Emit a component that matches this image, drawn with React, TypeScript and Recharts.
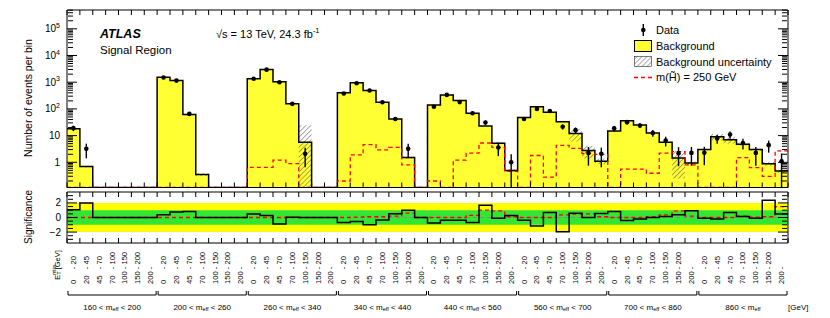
import React from 'react';
import {
  ComposedChart,
  Area,
  Line,
  Scatter,
  ErrorBar,
  XAxis,
  YAxis,
  ReferenceArea,
  ReferenceLine,
} from 'recharts';

// E_T^miss bins inside each m_eff group [GeV]
const metLow = ['0', '20', '45', '70', '100', '150', '200'];
const metHigh = ['20', '45', '70', '100', '150', '200', ''];

// m_eff groups [GeV]
const meffLow = ['160', '200', '260', '340', '440', '560', '700', '860'];
const meffHigh = ['200', '260', '340', '440', '560', '700', '860', ''];

// expected background per bin (8 groups x 7 bins)
const background = [
  18, 0.7, 0, 0, 0, 0, 0,
  1550, 1150, 62, 0.35, 0, 0, 0,
  1350, 3000, 1050, 155, 5.6, 0, 0,
  400, 950, 490, 178, 42, 1.5, 0,
  141, 335, 205, 69, 23, 5.2, 0.49,
  48, 120, 75, 33, 12, 2.8, 1.1,
  15, 36, 25, 12.6, 5.6, 1.45, 0.94,
  3.0, 9, 7, 4.8, 3.0, 0.89, 0.47,
];

// background uncertainty (hatched)
const backgroundErr = [
  0, 0.05, 0, 0, 0, 0, 0,
  0, 0, 0, 0.04, 0, 0, 0,
  0, 0, 0, 0, 19, 0, 0,
  0, 0, 0, 0, 0, 0.15, 0,
  0, 0, 0, 0, 0, 0.5, 0.06,
  0, 0, 0, 0, 6, 1.4, 0.25,
  0, 0, 0, 0, 0, 1.2, 0.1,
  0, 2.5, 2, 0.6, 0.3, 0.15, 0.06,
];

// observed data (null = no point drawn)
const observed: (number | null)[] = [
  19, 3.2, null, null, null, null, null,
  1500, 1150, 65, null, null, null, null,
  1350, 2950, 1000, 155, 2.1, null, null,
  380, 920, 490, 178, 42, 3.2, null,
  120, 335, 180, 69, 31, 3.6, 1.0,
  42, 100, 84, 21.5, 16, 2.25, 2.1,
  18.7, 32, 24, 12.6, 6.5, 2.2, 2.25,
  2.3, 7.8, 11, 5.3, 2.25, 4.4, 1.1,
];

// m(H~) = 250 GeV signal
const signal = [
  0, 0, 0, 0, 0, 0, 0,
  0, 0, 0, 0, 0, 0, 0,
  0.65, 0.65, 1.2, 0.9, 0, 0, 0,
  0.2, 1.9, 4.6, 2.9, 3.6, 0.8, 0,
  0.2, 0, 1.2, 2.2, 5.3, 3.6, 0.46,
  0, 1.8, 0.28, 4.3, 3.3, 2.1, 2.0,
  0, 0.56, 0.56, 0.39, 2.2, 2.5, 0.8,
  0, 0, 0, 1.5, 0.63, 0.3, 2.67,
];

// significance of data vs background
const significance = [
  1.07, 2.0, 0, 0, 0, 0, 0,
  0.37, 0.74, 0.84, 0, 0, 0, 0,
  0.47, 0.28, -0.88, 0.05, 0, 0, 0,
  -0.7, -0.56, -1.0, -0.33, 0.51, 0.98, 0,
  -0.74, -0.37, -0.37, -0.7, 1.67, -0.1, 0.28,
  -0.37, -1.16, 0.7, -1.95, 0.6, 0, 0.56,
  0.84, -0.42, -0.19, 0, 0.14, 0.37, 0.93,
  -0.1, -0.19, 0.7, 0.14, -0.1, 2.37, 0.47,
];

// significance of signal + background
const signalSignificance = [
  0, 0, 0, 0, 0, 0, 0,
  0, 0, 0, 0, 0, 0, 0,
  0, 0, 0, 0, 0, 0, 0,
  0, 0.05, 0.1, 0.1, 0.2, 0.6, 0,
  0, 0, 0, 0.3, 1.0, 0.9, 0.1,
  0, 0, 0, 0.35, 0.45, 0.5, 0.1,
  0, 0, 0, 0.1, 0.35, 0.9, 0.2,
  0, 0, 0, 0.2, 0.05, 0.1, 1.5,
];

const NB = background.length;
const PER_GROUP = metLow.length;
const Y_MIN = 0.114;
const Y_MAX = 5.06e5;
const FONT = '"Liberation Sans", Arial, Helvetica, sans-serif';
const LEFT = 67;
const RIGHT_MARGIN = 42;
const BIN_PX = (830 - LEFT - RIGHT_MARGIN) / NB;

const edges = Array.from({ length: NB + 1 }, (_, i) => i);
const centers = Array.from({ length: NB }, (_, i) => i + 0.5);
const decades = [1, 10, 100, 1000, 10000, 100000];
const minors: number[] = [];
for (let e = -1; e <= 5; e++) {
  for (let k = 2; k <= 9; k++) {
    const v = k * Math.pow(10, e);
    if (v > Y_MIN && v < Y_MAX) minors.push(v);
  }
}
const sigMajor = [-2, 0, 2];
const sigMinor = [-3, -2.5, -1.5, -1, -0.5, 0.5, 1, 1.5, 2.5, 3];

const rows = edges.map((i) => {
  const b = Math.min(i, NB - 1);
  const bg = background[b];
  const e = backgroundErr[b];
  return {
    x: i,
    bg: bg > 0 ? bg : Y_MIN,
    band: bg > 0 ? [Math.max(bg - e, Y_MIN), bg + e] : [Y_MIN, Y_MIN],
    sig: signal[b] > 0 ? signal[b] : Y_MIN,
    z: significance[b],
    zs: signalSignificance[b],
  };
});

const points = observed.flatMap((v, i) =>
  v == null
    ? []
    : [{ x: i + 0.5, y: v, err: [v - Math.max(v - Math.sqrt(v), Y_MIN), Math.sqrt(v)] }]
);

const LogTick = ({ x, y, payload }: any) => {
  const v = payload.value;
  const e = Math.round(Math.log10(v));
  return (
    <text x={x} y={y} textAnchor="end" dominantBaseline="central" fontSize={10} fill="#000">
      {e <= 1 ? String(v) : (
        <>
          10<tspan dy={-4} fontSize={7}>{e}</tspan>
        </>
      )}
    </text>
  );
};

const MetTick = ({ x, y, payload }: any) => {
  const bin = Math.floor(payload.value);
  const k = bin % PER_GROUP;
  const g = Math.floor(bin / PER_GROUP);
  const label = `${metLow[k].padEnd(3, '\u2007')} - ${metHigh[k]}`;
  return (
    <g>
      <text
        transform={`translate(${x},${y + 41}) rotate(-90)`}
        dominantBaseline="central"
        fontSize={7.6}
        fill="#000"
      >
        {label}
      </text>
      {k === 3 && (
        <g>
          <path
            d={`M${x - 3.5 * BIN_PX + 1},${y + 48} V${y + 52} H${x + 3.5 * BIN_PX - 1} V${y + 48}`}
            stroke="#000"
            fill="none"
            strokeWidth={1}
          />
          <text x={x} y={y + 64} textAnchor="middle" dominantBaseline="central" fontSize={8} fill="#000">
            {meffLow[g]} &lt; m<tspan dy={2} fontSize={5.5}>eff</tspan>
            <tspan dy={-2}>{meffHigh[g] ? ` < ${meffHigh[g]}` : ''}</tspan>
          </text>
        </g>
      )}
    </g>
  );
};

const Dot = (p: any) => <circle cx={p.cx} cy={p.cy} r={2.3} fill="#000" />;
const NoLabel = () => <g />;

// frame with inward ticks on all four sides
const frameAxes = (yDomain: number[], yScale: 'log' | 'linear', major: number[], minor: number[]) => {
  const common = { tick: NoLabel, interval: 0 as const, allowDataOverflow: true, stroke: '#000', tickLine: { stroke: '#000' } };
  return [
    <XAxis key="t" xAxisId="t" orientation="top" mirror type="number" domain={[0, NB]}
      ticks={edges} tickSize={5} height={1} {...common} />,
    <XAxis key="b" xAxisId="b" orientation="bottom" mirror type="number" domain={[0, NB]}
      ticks={edges} tickSize={5} height={1} {...common} />,
    <YAxis key="lM" yAxisId="lM" mirror type="number" scale={yScale} domain={yDomain}
      ticks={major} tickSize={10} width={1} {...common} />,
    <YAxis key="lm" yAxisId="lm" mirror type="number" scale={yScale} domain={yDomain}
      ticks={minor} tickSize={5} width={1} axisLine={false} {...common} />,
    <YAxis key="rM" yAxisId="rM" orientation="right" mirror type="number" scale={yScale} domain={yDomain}
      ticks={major} tickSize={10} width={1} {...common} />,
    <YAxis key="rm" yAxisId="rm" orientation="right" mirror type="number" scale={yScale} domain={yDomain}
      ticks={minor} tickSize={5} width={1} axisLine={false} {...common} />,
  ];
};

const App: React.FC = () => {
  return (
    <div style={{ position: 'absolute', left: 0, top: 0, width: 830, height: 318, fontFamily: FONT, background: '#fff' }}>
      {/* upper panel: event counts */}
      <ComposedChart
        width={830}
        height={190}
        data={rows}
        margin={{ top: 10, right: RIGHT_MARGIN, bottom: 2.5, left: 0 }}
        style={{ position: 'absolute', left: 0, top: 0 }}
      >
        <defs>
          <pattern id="hatch" width="3.5" height="3.5" patternUnits="userSpaceOnUse" patternTransform="rotate(45)">
            <line x1="0" y1="0" x2="0" y2="3.5" stroke="#555" strokeWidth="1" />
          </pattern>
        </defs>
        <XAxis xAxisId="m" dataKey="x" type="number" domain={[0, NB]} allowDataOverflow hide />
        {frameAxes([Y_MIN, Y_MAX], 'log', decades, minors)}
        <YAxis yAxisId="m" type="number" scale="log" domain={[Y_MIN, Y_MAX]} allowDataOverflow ticks={decades}
          interval={0} width={LEFT} axisLine={false} tickLine={false} tickSize={4} tickMargin={3} tick={<LogTick />} />
        <Area xAxisId="m" yAxisId="m" dataKey="bg" type="stepAfter" fill="#ffff33" fillOpacity={1}
          stroke="none" baseValue={Y_MIN} isAnimationActive={false} />
        <Area xAxisId="m" yAxisId="m" dataKey="band" type="stepAfter" fill="url(#hatch)" fillOpacity={1}
          stroke="none" isAnimationActive={false} />
        <Line xAxisId="m" yAxisId="m" dataKey="bg" type="stepAfter" stroke="#000" strokeWidth={1.5}
          dot={false} activeDot={false} isAnimationActive={false} />
        <Line xAxisId="m" yAxisId="m" dataKey="sig" type="stepAfter" stroke="#ff0000" strokeWidth={1.3}
          strokeDasharray="4 3" dot={false} activeDot={false} isAnimationActive={false} />
        <Scatter xAxisId="m" yAxisId="m" data={points} dataKey="y" shape={Dot} isAnimationActive={false}>
          <ErrorBar dataKey="err" direction="y" width={0} stroke="#000" strokeWidth={1.4} />
        </Scatter>
      </ComposedChart>

      {/* lower panel: significance */}
      <ComposedChart
        width={830}
        height={133}
        data={rows}
        margin={{ top: 7, right: RIGHT_MARGIN, bottom: 0, left: 0 }}
        style={{ position: 'absolute', left: 0, top: 185 }}
      >
        <XAxis xAxisId="m" dataKey="x" type="number" domain={[0, NB]} allowDataOverflow hide />
        {frameAxes([-3.5, 3.5], 'linear', sigMajor, sigMinor)}
        <XAxis xAxisId="lbl" orientation="bottom" type="number" domain={[0, NB]} allowDataOverflow
          ticks={centers} interval={0} tickLine={false} axisLine={false} tickSize={0} tickMargin={0}
          height={75} tick={<MetTick />} />
        <YAxis yAxisId="m" type="number" domain={[-3.5, 3.5]} allowDataOverflow ticks={sigMajor} interval={0}
          width={LEFT} axisLine={false} tickLine={false} tickSize={4} tickMargin={2}
          tick={{ fontSize: 10, fill: '#000' }} tickFormatter={(v: number) => (v < 0 ? `\u2212${-v}` : `${v}`)} />
        <ReferenceArea xAxisId="m" yAxisId="m" y1={-2} y2={2} fill="#ffff00" fillOpacity={1} stroke="none" />
        <ReferenceArea xAxisId="m" yAxisId="m" y1={-1} y2={1} fill="#33e633" fillOpacity={1} stroke="none" />
        <ReferenceLine xAxisId="m" yAxisId="m" y={0} stroke="#888" strokeDasharray="4 3" />
        <Line xAxisId="m" yAxisId="m" dataKey="zs" type="stepAfter" stroke="#ff0000" strokeWidth={1.3}
          strokeDasharray="4 3" dot={false} activeDot={false} isAnimationActive={false} />
        <Line xAxisId="m" yAxisId="m" dataKey="z" type="stepAfter" stroke="#000" strokeWidth={1.5}
          dot={false} activeDot={false} isAnimationActive={false} />
      </ComposedChart>

      {/* annotations and legend */}
      <svg width={830} height={318} style={{ position: 'absolute', left: 0, top: 0, pointerEvents: 'none' }} fontFamily={FONT}>
        <defs>
          <pattern id="hatchLeg" width="3.5" height="3.5" patternUnits="userSpaceOnUse" patternTransform="rotate(45)">
            <line x1="0" y1="0" x2="0" y2="3.5" stroke="#555" strokeWidth="1" />
          </pattern>
        </defs>
        <text x={100} y={33.5} fontSize={12.5} fontWeight="bold" fontStyle="italic" dominantBaseline="central">ATLAS</text>
        <text x={100} y={50} fontSize={11.5} dominantBaseline="central">Signal Region</text>
        <text x={216} y={33.5} fontSize={11} dominantBaseline="central">
          √s = 13 TeV, 24.3 fb<tspan dy={-4} fontSize={7.5}>-1</tspan>
        </text>
        <text transform="translate(28,98) rotate(-90)" textAnchor="middle" dominantBaseline="central" fontSize={10.5}>
          Number of events per bin
        </text>
        <text transform="translate(28,217) rotate(-90)" textAnchor="middle" dominantBaseline="central" fontSize={10}>
          Significance
        </text>
        <text transform="translate(57,265) rotate(-90)" textAnchor="middle" dominantBaseline="central" fontSize={7.5}>
          E<tspan dy={-3} fontSize={5}>miss</tspan>
          <tspan dx={-10} dy={5} fontSize={5}>T</tspan>
          <tspan dy={-2}> [GeV]</tspan>
        </text>
        <text x={788} y={307} fontSize={8} dominantBaseline="central">[GeV]</text>

        {/* legend */}
        <line x1={643.3} y1={24} x2={643.3} y2={36} stroke="#000" strokeWidth={1.4} />
        <circle cx={643.3} cy={30} r={2.3} fill="#000" />
        <text x={656} y={30} fontSize={11} dominantBaseline="central">Data</text>
        <rect x={634.5} y={40.5} width={17} height={11} fill="#ffff33" stroke="#000" strokeWidth={1} />
        <text x={656} y={46} fontSize={11} dominantBaseline="central">Background</text>
        <rect x={634.5} y={56.5} width={17} height={10} fill="url(#hatchLeg)" stroke="#000" strokeWidth={0.5} />
        <text x={656} y={62} fontSize={11} dominantBaseline="central">Background uncertainty</text>
        <line x1={634} y1={77.5} x2={652} y2={77.5} stroke="#ff0000" strokeWidth={1.3} strokeDasharray="4 3" />
        <text x={656} y={77} fontSize={11} dominantBaseline="central">m(H̃) = 250 GeV</text>
      </svg>
    </div>
  );
};

export default App;
